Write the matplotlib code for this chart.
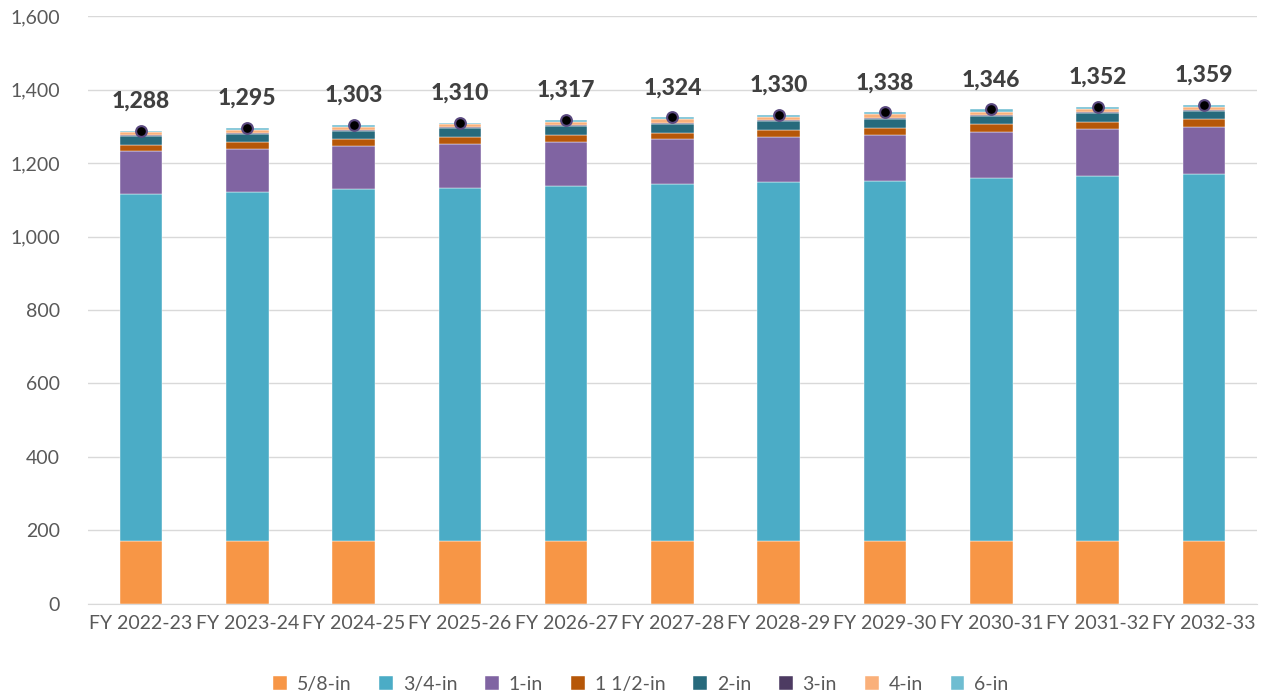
import numpy as np
import matplotlib.pyplot as plt

plt.rcParams['font.family'] = ['Lato', 'DejaVu Sans']

years = ['FY 2022-23', 'FY 2023-24', 'FY 2024-25', 'FY 2025-26', 'FY 2026-27', 'FY 2027-28',
         'FY 2028-29', 'FY 2029-30', 'FY 2030-31', 'FY 2031-32', 'FY 2032-33']

s_58 = [171, 171, 171, 171, 171, 171, 171, 171, 171, 171, 171]
s_34 = [945, 950, 957, 962, 966, 971, 976, 981, 987, 993, 998]
s_1 = [116, 117, 118, 119, 121, 122, 124, 125, 127, 128, 130]
s_112 = [18, 18, 18, 19, 19, 19, 19, 19, 20, 20, 20]
s_2 = [23, 23, 23, 23, 23, 23, 23, 24, 23, 23, 23]
s_3 = [4, 4, 4, 4, 4, 4, 3, 3, 3, 3, 3]
s_4 = [8, 8, 8, 8, 8, 9, 9, 9, 9, 8, 8]
s_6 = [3, 4, 4, 4, 5, 5, 5, 6, 6, 6, 6]
totals = [1288, 1295, 1303, 1310, 1317, 1324, 1330, 1338, 1346, 1352, 1359]

series = [('5/8-in', s_58, '#F79646'), ('3/4-in', s_34, '#4BACC6'), ('1-in', s_1, '#8064A2'),
          ('1 1/2-in', s_112, '#B65708'), ('2-in', s_2, '#276A7C'), ('3-in', s_3, '#4D3B62'),
          ('4-in', s_4, '#FAB07A'), ('6-in', s_6, '#6FBDD1')]

fig = plt.figure(figsize=(12.62, 6.96), dpi=100)
ax = fig.add_axes([0.0697, 0.1322, 0.9263, 0.8448])

x = np.arange(len(years))
bottom = np.zeros(len(years))
for name, vals, col in series:
    ax.bar(x, vals, 0.4, bottom=bottom, color=col, label=name, edgecolor='white', linewidth=0.3)
    bottom += np.array(vals)

ax.scatter(x, totals, s=60, color='black', edgecolor='#5B4A80', linewidth=1.5, zorder=5)
for xi, t in zip(x, totals):
    ax.text(xi, t + 52, f'{t:,}', ha='center', va='bottom', fontsize=16.5, fontweight='black', color='#404040')

ax.set_xlim(-0.5, len(years) - 0.5)
ax.set_ylim(0, 1600)
ax.set_yticks(range(0, 1601, 200))
ax.set_yticklabels([f'{v:,}' for v in range(0, 1601, 200)])
ax.set_xticks(x)
ax.set_xticklabels(years)
ax.tick_params(axis='both', length=0, labelsize=14, colors='#595959')
ax.tick_params(axis='y', pad=20)
ax.tick_params(axis='x', pad=8)
ax.grid(axis='y', color='#D9D9D9', linewidth=1)
ax.set_axisbelow(True)
for sp in ['top', 'right', 'left']:
    ax.spines[sp].set_visible(False)
ax.spines['bottom'].set_color('#D9D9D9')

ax.legend(loc='upper center', bbox_to_anchor=(0.473, -0.092), ncol=8, frameon=False,
          fontsize=14, handlelength=0.7, handleheight=0.7, columnspacing=1.45,
          handletextpad=0.5, labelcolor='#595959')

fig.savefig('out.png', dpi=100)
